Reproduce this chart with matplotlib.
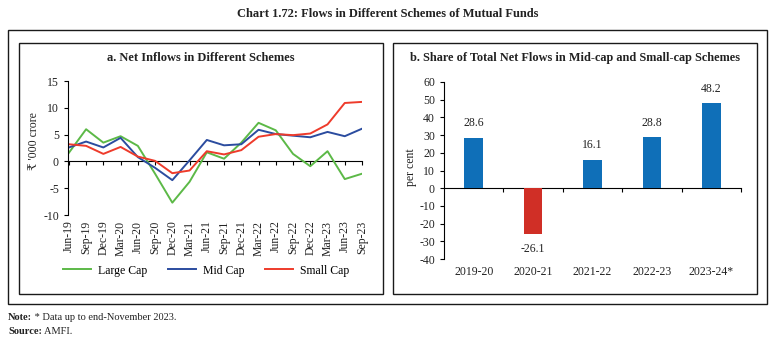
import matplotlib
matplotlib.use("Agg")
import matplotlib.pyplot as plt
from matplotlib.patches import Rectangle
import numpy as np

plt.rcParams['font.family'] = ['Liberation Serif', 'DejaVu Serif', 'DejaVu Sans']
plt.rcParams['axes.unicode_minus'] = False

# panel a: quarterly net inflows (Rs '000 crore)
quarters = ['Jun-19', 'Sep-19', 'Dec-19', 'Mar-20', 'Jun-20', 'Sep-20', 'Dec-20', 'Mar-21', 'Jun-21',
            'Sep-21', 'Dec-21', 'Mar-22', 'Jun-22', 'Sep-22', 'Dec-22', 'Mar-23', 'Jun-23', 'Sep-23']
large_cap = [1.6, 6.0, 3.5, 4.7, 2.9, -2.3, -7.7, -3.8, 1.7, 0.5, 3.5, 7.2, 5.8, 1.4, -0.9, 1.9, -3.3, -2.3]
mid_cap = [2.6, 3.7, 2.6, 4.4, 0.8, -1.2, -3.5, 0.2, 4.0, 3.0, 3.2, 5.9, 5.1, 4.8, 4.5, 5.5, 4.7, 6.1]
small_cap = [3.2, 2.9, 1.4, 2.7, 0.9, 0.1, -2.2, -1.7, 1.9, 1.3, 2.1, 4.6, 5.1, 4.9, 5.2, 6.9, 10.9, 11.1]

# panel b: share of mid and small cap in total net flows (per cent)
years = ['2019-20', '2020-21', '2021-22', '2022-23', '2023-24*']
share = [28.6, -26.1, 16.1, 28.8, 48.2]

W, H = 775, 345
fig = plt.figure(figsize=(W / 100, H / 100), dpi=100)
TXT = '#222222'
FS = 8.5


def px_rect(x0, y0, x1, y1):
    # pixel box (top-left origin) -> figure fraction [l, b, w, h]
    return [x0 / W, 1 - y1 / H, (x1 - x0) / W, (y1 - y0) / H]


def frame(x0, y0, x1, y1):
    l, b, w, h = px_rect(x0, y0, x1, y1)
    fig.patches.append(Rectangle((l, b), w, h, transform=fig.transFigure,
                                 fill=False, edgecolor='#1a1a1a', linewidth=1.0))


frame(8, 30, 767, 304)
frame(19, 43, 383, 294)
frame(393, 43, 757, 294)

fig.text(388 / W, 1 - 14 / H, 'Chart 1.72: Flows in Different Schemes of Mutual Funds',
         ha='center', va='center', fontsize=9, fontweight='bold', color=TXT)
fig.text(201 / W, 1 - 58 / H, 'a. Net Inflows in Different Schemes',
         ha='center', va='center', fontsize=9, fontweight='bold', color=TXT)
fig.text(575 / W, 1 - 58 / H, 'b. Share of Total Net Flows in Mid-cap and Small-cap Schemes',
         ha='center', va='center', fontsize=8.8, fontweight='bold', color=TXT)

# ---- panel a
ax1 = fig.add_axes(px_rect(68, 81, 362, 215))
x = np.arange(len(quarters))
ax1.plot(x, large_cap, color='#5cb947', lw=1.4, label='Large Cap')
ax1.plot(x, mid_cap, color='#2b4c9f', lw=1.4, label='Mid Cap')
ax1.plot(x, small_cap, color='#ee3b2b', lw=1.4, label='Small Cap')
ax1.set_xlim(-0.05, len(quarters) - 1)
ax1.set_ylim(-10, 15)
ax1.set_yticks(np.arange(-10, 16, 5))
ax1.set_xticks(x)
ax1.set_xticklabels(quarters, rotation=90)
ax1.tick_params(axis='x', length=0, pad=4, labelsize=FS, labelcolor=TXT)
ax1.tick_params(axis='y', length=3, direction='out', labelsize=FS, width=0.8, labelcolor=TXT)
for s in ['top', 'right', 'bottom']:
    ax1.spines[s].set_visible(False)
ax1.spines['left'].set_linewidth(0.8)
ax1.set_ylabel("₹ '000 crore", fontsize=FS, color=TXT)
ax1.yaxis.set_label_coords(-0.095, 0.55)
zero1 = ax1.secondary_xaxis(10 / 25)
zero1.set_xticks(x)
zero1.set_xticklabels([])
zero1.tick_params(length=3, direction='out', width=0.8)
zero1.spines['bottom'].set_linewidth(0.8)
ax1.legend(loc='center', bbox_to_anchor=(0.47, -0.415), ncol=3, frameon=False,
           fontsize=FS, handlelength=2.4, columnspacing=1.7, handletextpad=0.6)

# ---- panel b
ax2 = fig.add_axes(px_rect(444, 82, 741, 259))
xb = np.arange(len(years))
colors = ['#0f6fb8' if v >= 0 else '#d02f26' for v in share]
bars = ax2.bar(xb, share, width=0.31, color=colors)
ax2.bar_label(bars, labels=[f'{v:.1f}' for v in share], padding=6, fontsize=FS, color=TXT)
ax2.set_xlim(-0.5, len(years) - 0.5)
ax2.set_ylim(-40, 60)
ax2.set_yticks(np.arange(-40, 61, 10))
ax2.set_xticks(xb)
ax2.set_xticklabels(years)
ax2.tick_params(axis='x', length=0, pad=5, labelsize=FS, labelcolor=TXT)
ax2.tick_params(axis='y', length=3, direction='out', labelsize=FS, width=0.8, labelcolor=TXT)
for s in ['top', 'right', 'bottom']:
    ax2.spines[s].set_visible(False)
ax2.spines['left'].set_linewidth(0.8)
ax2.set_ylabel('per cent', fontsize=FS, color=TXT)
ax2.yaxis.set_label_coords(-0.09, 0.52)
zero2 = ax2.secondary_xaxis(40 / 100)
zero2.set_xticks(np.arange(len(years)) + 0.5)
zero2.set_xticklabels([])
zero2.tick_params(length=3, direction='out', width=0.8)
zero2.spines['bottom'].set_linewidth(0.8)

# ---- notes with bold lead-ins
renderer = fig.canvas.get_renderer()
for yy, lead, rest in [(318, 'Note:', ' * Data up to end-November 2023.'),
                       (331, 'Source:', ' AMFI.')]:
    t = fig.text(8 / W, 1 - yy / H, lead, fontsize=7.5, fontweight='bold', va='center', color=TXT)
    bb = t.get_window_extent(renderer)
    fig.text(bb.x1 / W, 1 - yy / H, rest, fontsize=7.5, va='center', color=TXT)

fig.savefig('out.png', dpi=100)
